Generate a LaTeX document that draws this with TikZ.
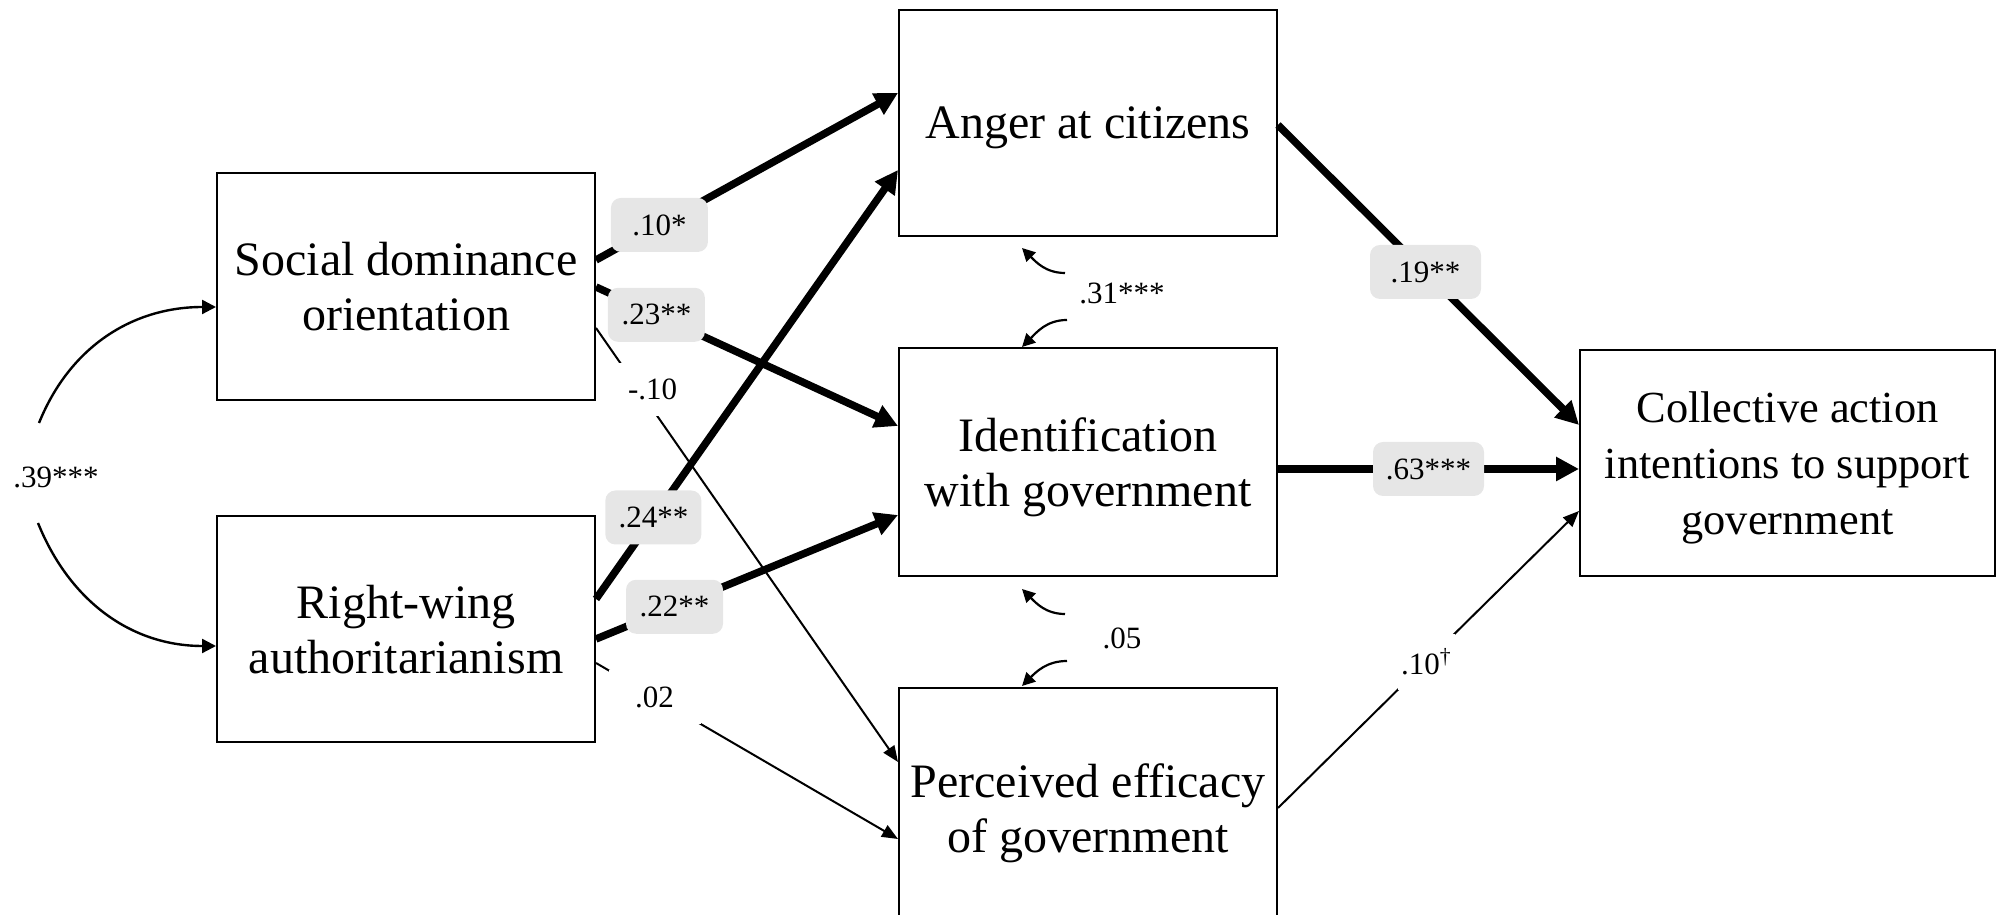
\documentclass[tikz,border=0pt]{standalone}
\usepackage{fontspec}
\setmainfont{Liberation Serif}
\usetikzlibrary{arrows.meta,calc}
\definecolor{lblgray}{HTML}{E6E6E6}
\begin{document}
\begin{tikzpicture}[x=0.5pt,y=0.5pt,
  box/.style={draw, line width=1pt, inner sep=0pt, align=center, text depth=0pt,
    minimum width=189pt, minimum height=113.5pt,
    font=\fontsize{24}{27.5}\selectfont},
  thickarr/.style={line width=3.75pt, -{Triangle[length=11.5pt,width=11.5pt]}},
  thinarr/.style={line width=1pt, -{Triangle[length=8pt,width=6.5pt]}},
  resarr/.style={line width=1.1pt, -{Triangle[length=6.5pt,width=6.5pt]}},
  covarr/.style={line width=1.2pt, -{Triangle[length=7pt,width=7pt]}},
  graylbl/.style={fill=lblgray, rounded corners=5pt, inner sep=0pt,
    minimum height=27pt, font=\fontsize{15.5}{18}\selectfont},
  plainlbl/.style={fill=white, inner sep=0pt, font=\fontsize{15.5}{18}\selectfont},
]
\useasboundingbox (0,0) rectangle (1999,915);

% boxes
\node[box] (sdo) at (406,628.5) {Social dominance\\orientation};
\node[box, minimum height=113pt] (rwa) at (406,286) {Right-wing\\authoritarianism};
\node[box, minimum height=113pt] (anger) at (1088,792) {Anger at citizens};
\node[box, minimum height=114pt] (ident) at (1088,453) {Identification\\with government};
\node[box, minimum height=120pt] (eff) at (1088,107) {Perceived efficacy\\of government};
\node[box, minimum width=207.5pt, minimum height=113pt,
  font=\fontsize{22.2}{28}\selectfont] (coll) at (1787.5,452)
  {Collective action\\intentions to support\\government};

% paths from predictors
\draw[thickarr] ($(sdo.east)+(0,26.5)$) --
  node[graylbl, pos=0.21, minimum width=48.5pt] {.10*}
  ($(anger.west)+(0,30)$);
\draw[thickarr] ($(sdo.east)+(0,-0.5)$) --
  node[graylbl, pos=0.2, minimum width=48.5pt] {.23**}
  ($(ident.west)+(0,36)$);
\draw[thinarr] ($(sdo.east)+(0,-41.5)$) --
  node[plainlbl, pos=0.141, xshift=7pt, inner xsep=4.75pt, minimum height=26.5pt] {-.10}
  ($(eff.west)+(0,46)$);
\draw[thickarr] ($(rwa.east)+(0,30)$) --
  node[graylbl, pos=0.19, minimum width=48pt] {.24**}
  ($(anger.west)+(0,-47)$);
\draw[thickarr] ($(rwa.east)+(0,-10)$) --
  node[graylbl, pos=0.26, minimum width=48.5pt] {.22**}
  ($(ident.west)+(0,-53)$);
\draw[thinarr] ($(rwa.east)+(0,-34)$) --
  node[plainlbl, pos=0.194, minimum width=46pt, minimum height=27pt] {.02}
  ($(eff.west)+(0,-31)$);

% paths to outcome
\draw[thickarr] ($(anger.east)+(0,-2)$) --
  node[graylbl, pos=0.49, minimum width=55.5pt] {.19**}
  ($(coll.west)+(0,38)$);
\draw[thickarr] ($(ident.east)+(0,-7)$) --
  node[graylbl, pos=0.5, minimum width=55.5pt] {.63***}
  ($(coll.west)+(0,-6)$);
\draw[thinarr] (eff.east) --
  node[plainlbl, pos=0.493, minimum width=28.5pt, minimum height=28pt] {.10\textsuperscript{\textdagger}}
  ($(coll.west)+(0,-48)$);

% covariance between predictors
\node[plainlbl] (cov) at (56,438) {.39***};
\draw[covarr] ($(cov.center)+(-17,54)$) to[out=68,in=180] ($(sdo.west)+(0,-20.5)$);
\draw[covarr] ($(cov.center)+(-18,-46)$) to[out=-68,in=180] ($(rwa.west)+(0,-17)$);

% residual correlations
\node[plainlbl] (r1) at (1122,622) {.31***};
\draw[resarr] ($(r1.center)+(-57,20)$) to[out=180,in=-45] ($(anger.south)+(-66,-11)$);
\draw[resarr] ($(r1.center)+(-55,-27)$) to[out=180,in=45] ($(ident.north)+(-66,0)$);

\node[plainlbl] (r2) at (1122,277) {.05};
\draw[resarr] ($(r2.center)+(-57,24)$) to[out=180,in=-45] ($(ident.south)+(-66,-12)$);
\draw[resarr] ($(r2.center)+(-55,-23)$) to[out=180,in=45] ($(eff.north)+(-66,1)$);
\end{tikzpicture}
\end{document}
